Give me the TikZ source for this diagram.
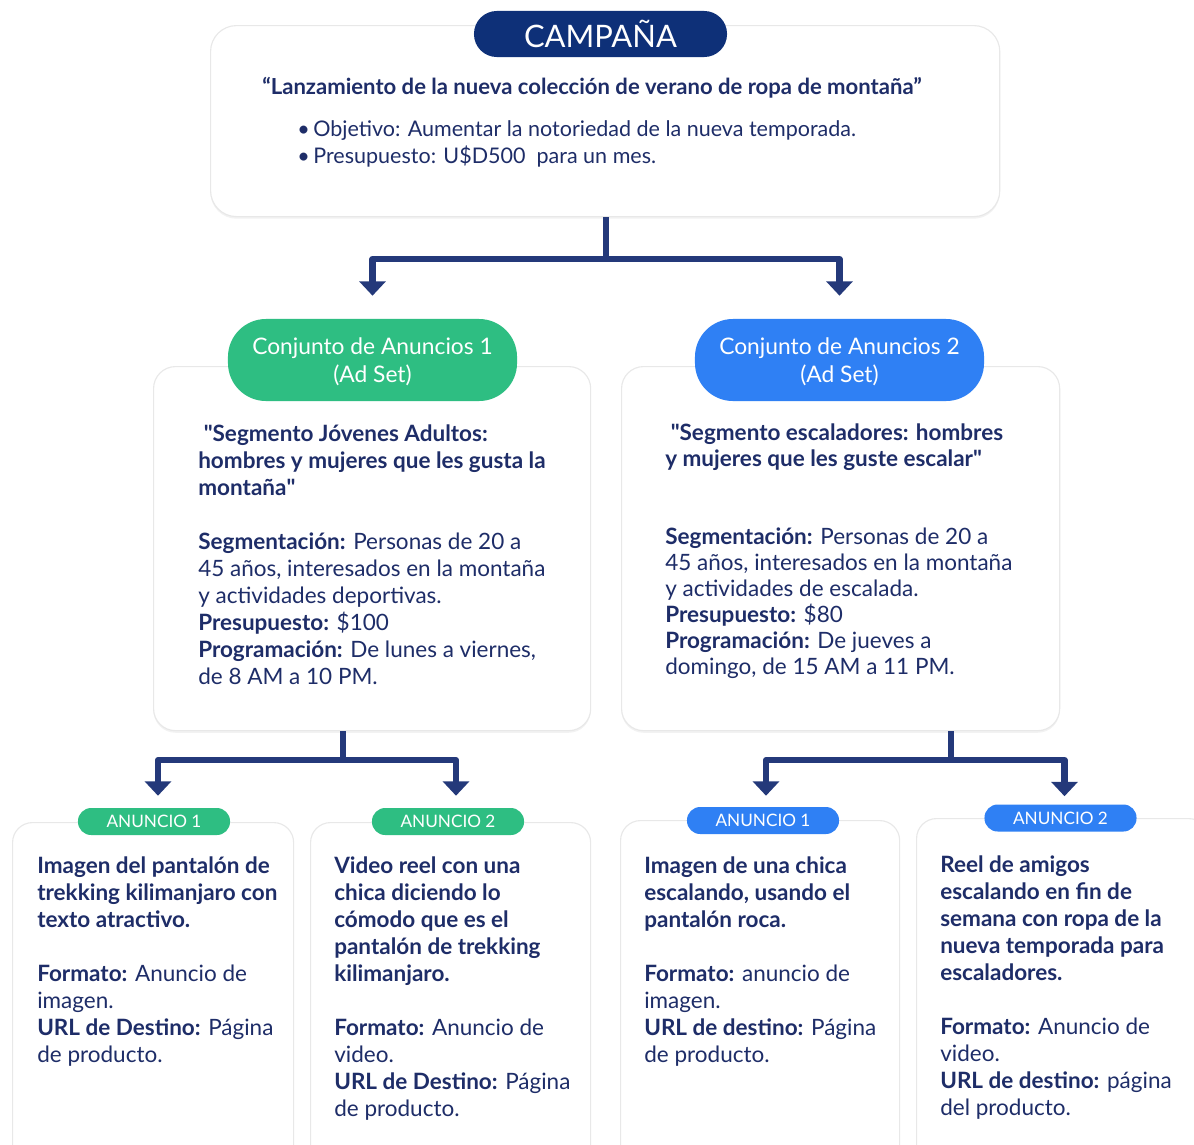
\documentclass[tikz,border=0pt]{standalone}
\usepackage{fontspec}
\setmainfont{Lato}
\usetikzlibrary{arrows.meta, positioning, shadows}
\definecolor{navy}{RGB}{14, 48, 120}
\definecolor{inkblue}{RGB}{30, 45, 104}
\definecolor{lineblue}{RGB}{36, 57, 122}
\definecolor{setgreen}{RGB}{46, 190, 130}
\definecolor{setblue}{RGB}{47, 128, 244}

\tikzset{
  card/.style={draw=black!9, line width=0.8pt, fill=white, anchor=north west, inner sep=0pt,
    rounded corners=0.55cm, drop shadow={shadow xshift=0pt, shadow yshift=-1.5pt, opacity=0.10}},
  pill/.style={text=white, inner sep=0pt, align=center},
  setpill/.style={pill, minimum width=7.225cm, minimum height=2.05cm, rounded corners=0.95cm,
    text depth=0pt, font={\fontsize{16.2}{19.9}\selectfont}},
  adpill/.style={pill, minimum width=3.8cm, minimum height=0.675cm, rounded corners=0.33cm,
    font={\fontsize{12.2}{14}\selectfont}},
  body/.style={text=inkblue, anchor=north west, inner sep=0pt, align=left,
    font={\fontsize{16}{19.2}\selectfont}},
  link/.style={draw=lineblue, line width=4.3pt, line join=round},
  linkarrow/.style={link, -{Triangle[width=0.65cm, length=0.36cm]}}
}
\newcommand{\dq}{\textquotedbl}

\begin{document}
\begin{tikzpicture}[x=0.025cm, y=-0.025cm]
  \useasboundingbox (0,0) rectangle (1194,1144);
  \clip (0,0) rectangle (1194,1144);
  \fill[white] (0,0) rectangle (1194,1144);

  % Campaign
  \node[card, minimum width=19.725cm, minimum height=4.775cm, rounded corners=0.65cm] (campaign) at (210,25) {};
  \node[pill, fill=navy, minimum width=6.325cm, minimum height=1.15cm, rounded corners=0.57cm,
    font={\fontsize{22}{26}\selectfont}] (camptitle) at (600.5,34) {CAMPAÑA};
  \node[text=inkblue, inner sep=0pt, font={\fontsize{15.7}{19.2}\selectfont\bfseries}] (campquote) at (592,88)
    {“Lanzamiento de la nueva colección de verano de ropa de montaña”};
  \node[body, font={\fontsize{15.3}{19.2}\selectfont}] (campinfo) at (297,120) {
    \textbullet\,Objetivo: Aumentar la notoriedad de la nueva temporada.\\
    \textbullet\,Presupuesto: U\$D500~ para un mes.};

  % Ad sets
  \node[card, minimum width=10.925cm, minimum height=9.1cm] (set1) at (153,366) {};
  \node[card, minimum width=10.95cm, minimum height=9.1cm] (set2) at (621,366) {};
  \node[setpill, fill=setgreen] (set1pill) at (372.5,360) {Conjunto de Anuncios 1\\(Ad Set)};
  \node[setpill, fill=setblue] (set2pill) at (839.5,360) {Conjunto de Anuncios 2\\(Ad Set)};

  \node[body] (set1text) at (198,424) {
    \textbf{~\dq Segmento Jóvenes Adultos:}\\
    \textbf{hombres y mujeres que les gusta la}\\
    \textbf{montaña\dq}\\[19.2pt]
    \textbf{Segmentación:} Personas de 20 a\\
    45 años, interesados en la montaña\\
    y actividades deportivas.\\
    \textbf{Presupuesto:} \$100\\
    \textbf{Programación:} De lunes a viernes,\\
    de 8 AM a 10 PM.};
  \node[body, font={\fontsize{16}{18.5}\selectfont}] (set2text) at (665,423) {
    \textbf{~\dq Segmento escaladores: hombres}\\
    \textbf{y mujeres que les guste escalar\dq}\\[37pt]
    \textbf{Segmentación:} Personas de 20 a\\
    45 años, interesados en la montaña\\
    y actividades de escalada.\\
    \textbf{Presupuesto:} \$80\\
    \textbf{Programación:} De jueves a\\
    domingo, de 15 AM a 11 PM.};

  % Ads
  \node[card, minimum width=7.025cm, minimum height=8.7cm, rounded corners=0.5cm] (ad1) at (12,822) {};
  \node[card, minimum width=7cm, minimum height=8.7cm, rounded corners=0.5cm] (ad2) at (310,822) {};
  \node[card, minimum width=6.975cm, minimum height=8.7cm, rounded corners=0.5cm] (ad3) at (620,820) {};
  \node[card, minimum width=7.3cm, minimum height=8.7cm, rounded corners=0.5cm] (ad4) at (916,818) {};
  \node[adpill, fill=setgreen] (ad1pill) at (154,821.5) {ANUNCIO 1};
  \node[adpill, fill=setgreen] (ad2pill) at (448,821.5) {ANUNCIO 2};
  \node[adpill, fill=setblue] (ad3pill) at (763,820.5) {ANUNCIO 1};
  \node[adpill, fill=setblue] (ad4pill) at (1060.5,818) {ANUNCIO 2};

  \node[body] (ad1text) at (37,856) {
    \textbf{Imagen del pantalón de}\\
    \textbf{trekking kilimanjaro con}\\
    \textbf{texto atractivo.}\\[19.2pt]
    \textbf{Formato:} Anuncio de\\
    imagen.\\
    \textbf{URL de Destino:} Página\\
    de producto.};
  \node[body] (ad2text) at (334,856) {
    \textbf{Video reel con una}\\
    \textbf{chica diciendo lo}\\
    \textbf{cómodo que es el}\\
    \textbf{pantalón de trekking}\\
    \textbf{kilimanjaro.}\\[19.2pt]
    \textbf{Formato:} Anuncio de\\
    video.\\
    \textbf{URL de Destino:} Página\\
    de producto.};
  \node[body] (ad3text) at (644,856) {
    \textbf{Imagen de una chica}\\
    \textbf{escalando, usando el}\\
    \textbf{pantalón roca.}\\[19.2pt]
    \textbf{Formato:} anuncio de\\
    imagen.\\
    \textbf{URL de destino:} Página\\
    de producto.};
  \node[body] (ad4text) at (940,855) {
    \textbf{Reel de amigos}\\
    \textbf{escalando en fin de}\\
    \textbf{semana con ropa de la}\\
    \textbf{nueva temporada para}\\
    \textbf{escaladores.}\\[19.2pt]
    \textbf{Formato:} Anuncio de\\
    video.\\
    \textbf{URL de destino:} página\\
    del producto.};

  % Connectors
  \coordinate (split0) at (606,259);
  \coordinate (split1) at (343,760);
  \coordinate (split2) at (951,760);
  \draw[link] (campaign.south -| split0) -- (split0);
  \draw[linkarrow] (split0) -| ([yshift=0.575cm]set1pill.north);
  \draw[linkarrow] (split0) -| ([yshift=0.575cm]set2pill.north);
  \draw[link] (set1.south -| split1) -- (split1);
  \draw[linkarrow] (split1) -| ([xshift=0.1cm, yshift=0.3cm]ad1pill.north);
  \draw[linkarrow] (split1) -| ([xshift=0.2cm, yshift=0.3cm]ad2pill.north);
  \draw[link] (set2.south -| split2) -- (split2);
  \draw[linkarrow] (split2) -| ([xshift=0.075cm, yshift=0.275cm]ad3pill.north);
  \draw[linkarrow] (split2) -| ([xshift=0.1cm, yshift=0.2cm]ad4pill.north);
\end{tikzpicture}
\end{document}
